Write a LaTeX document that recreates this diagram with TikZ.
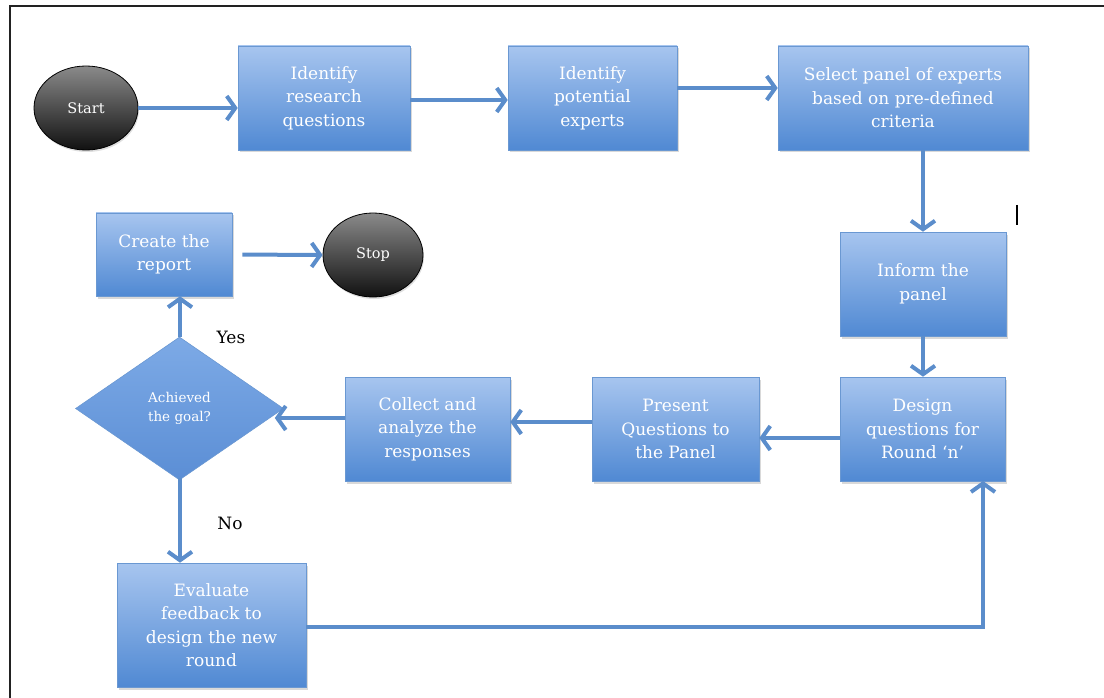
\documentclass[tikz,border=0pt]{standalone}
\usepackage{fontspec}
\setmainfont{DejaVu Serif}
\usetikzlibrary{arrows.meta,shapes.geometric,shadows,calc}
\definecolor{boxtop}{HTML}{A7C5EF}
\definecolor{boxbot}{HTML}{5089D3}
\definecolor{boxedge}{HTML}{6A98D2}
\definecolor{diatop}{HTML}{7DAAE6}
\definecolor{diabot}{HTML}{5B8ED5}
\definecolor{flowc}{HTML}{5B8DCB}
\definecolor{termtop}{HTML}{8A8A8A}
\definecolor{termbot}{HTML}{111111}
\definecolor{framec}{HTML}{222222}
\begin{document}
\begin{tikzpicture}[x=1pt,y=-1pt,
  stepbox/.style={rectangle, draw=boxedge, line width=0.6pt,
    top color=boxtop, bottom color=boxbot, text=white,
    font=\fontsize{17}{23.5}\selectfont, align=center, inner sep=0pt,
    drop shadow={shadow xshift=1.5pt, shadow yshift=-2.5pt, opacity=0.3}},
  decision/.style={diamond, draw=boxedge, line width=0.6pt,
    top color=diatop, bottom color=diabot, text=white,
    font=\fontsize{13.5}{18.5}\selectfont, align=center, inner sep=0pt,
    aspect=1.45, minimum width=208pt, minimum height=143pt},
  terminal/.style={ellipse, draw=black, line width=0.8pt,
    top color=termtop, bottom color=termbot, text=white,
    font=\fontsize{14.5}{16}\selectfont, inner sep=0pt,
    drop shadow={shadow xshift=1pt, shadow yshift=-2pt, opacity=0.25}},
  flow/.style={draw=flowc, line width=4pt,
    -{Straight Barb[length=8.5pt,width=24pt]}},
  answer/.style={font=\fontsize{17}{18}\selectfont, text=black}
]
\useasboundingbox (0,0) rectangle (1104,698);

% frame edges
\draw[framec, line width=2pt] (10,698) -- (10,6) -- (1104,6);
% small vertical mark
\draw[black, line width=1.6pt] (1017,205) -- (1017,225);

% terminals
\node[terminal, minimum width=104pt, minimum height=84pt] (start) at (86,108) {Start};
\node[terminal, minimum width=100pt, minimum height=84pt] (stop) at (373,255) {Stop};

% process steps
\node[stepbox, minimum width=172pt, minimum height=104pt] (b1) at (324,98) {Identify\\research\\questions};
\node[stepbox, minimum width=169pt, minimum height=104pt] (b2) at (592.5,98) {Identify\\potential\\experts};
\node[stepbox, minimum width=250pt, minimum height=104pt] (b3) at (903,98) {Select panel of experts\\based on pre-defined\\criteria};
\node[stepbox, minimum width=166pt, minimum height=104pt] (b4) at (923,284) {Inform the\\panel};
\node[stepbox, minimum width=165pt, minimum height=104pt] (b5) at (922.5,429) {Design\\questions for\\Round ‘n’};
\node[stepbox, minimum width=167pt, minimum height=104pt] (b6) at (675.5,429) {Present\\Questions to\\the Panel};
\node[stepbox, minimum width=165pt, minimum height=104pt] (b7) at (427.5,429) {Collect and\\analyze the\\responses};
\node[decision] (dia) at (179.5,408.5) {Achieved\\the goal?};
\node[stepbox, minimum width=136pt, minimum height=83pt] (rep) at (164,254.5) {Create the\\report};
\node[stepbox, minimum width=189pt, minimum height=124pt] (ev) at (211.5,625) {Evaluate\\feedback to\\design the new\\round};

% answer labels
\node[answer] (yes) at (231,337) {Yes};
\node[answer] (no) at (230,523) {No};

% connectors
\draw[flow] (start.east) -- (start.east -| b1.west);
\draw[flow] ([yshift=-2pt]b1.east) -- ([yshift=-2pt]b2.west);
\draw[flow] ([yshift=10pt]b2.east) -- ([yshift=10pt]b3.west);
\draw[flow] (b4.north |- b3.south) -- (b4.north);
\draw[flow] (b4.south) -- (b4.south |- b5.north);
\draw[flow] ([yshift=-9pt]b5.west) -- ([yshift=-9pt]b6.east);
\draw[flow] ([yshift=7pt]b6.west) -- ([yshift=7pt]b6.west -| b7.east);
\draw[flow] ([yshift=11pt]b7.west) -- ($([yshift=11pt]b7.west -| dia.east)+(-9,0)$);
\coordinate (diatop) at (180,337);
\draw[flow] (diatop) -- (diatop |- rep.south);
\draw[flow, shorten <=10pt] (rep.east) -- (stop.west);
\coordinate (diabot) at (180,478);
\draw[flow] (diabot) -- (diabot |- ev.north);
\coordinate (loopup) at (983,481);
\draw[flow] ([yshift=-2pt]ev.east) -| (loopup);
\end{tikzpicture}
\end{document}
